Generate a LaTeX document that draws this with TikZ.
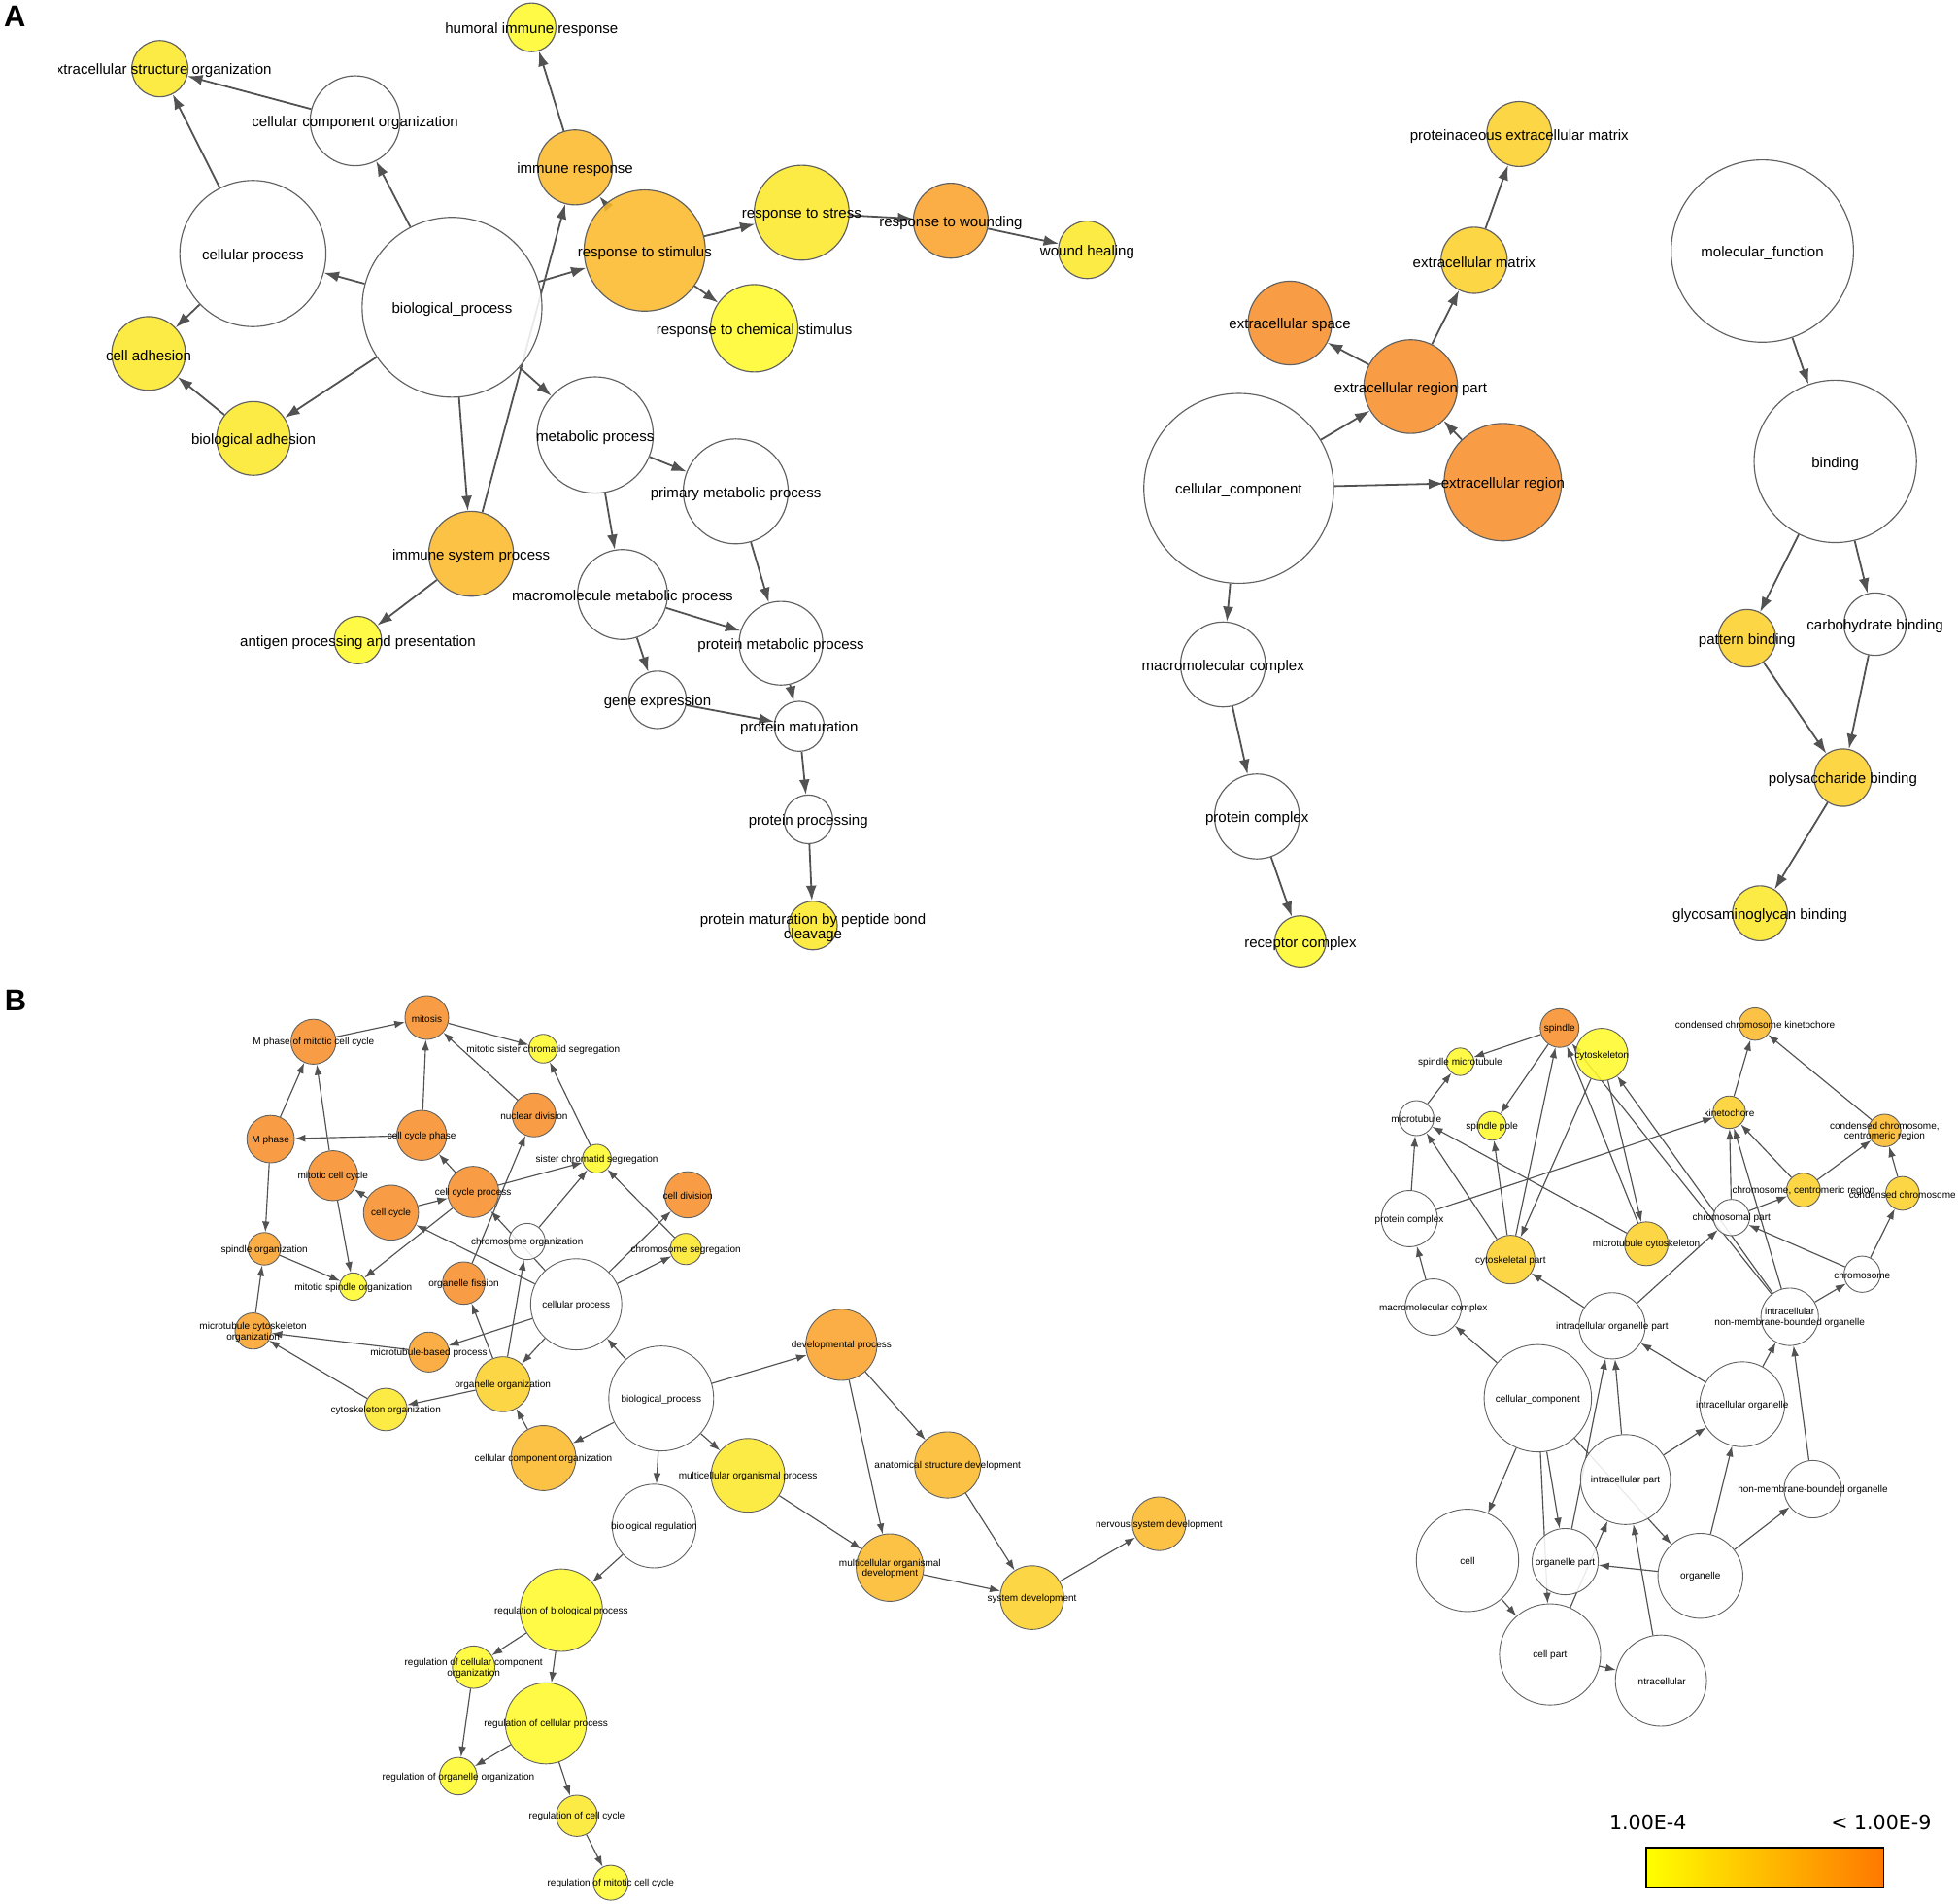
\documentclass[tikz,border=0pt]{standalone}
\usepackage{fontspec}
\usepackage{xcolor}
\usepackage{tikz}
\usetikzlibrary{arrows.meta}
\newfontfamily\lbfont{Liberation Sans}
\newfontfamily\dvfont{DejaVu Sans}
\definecolor{cA}{HTML}{FFF92B}
\definecolor{cB}{HTML}{FDE82B}
\definecolor{cC}{HTML}{FCD02B}
\definecolor{cD}{HTML}{FBB92B}
\definecolor{cE}{HTML}{F9A32B}
\definecolor{cF}{HTML}{F7902B}
\definecolor{barlow}{HTML}{FFFF00}
\definecolor{barmid}{HTML}{FFC500}
\definecolor{barhigh}{HTML}{FF7800}
\pgfdeclarelayer{bg}
\pgfsetlayers{bg,main}

\begin{document}
\begin{tikzpicture}[x=1pt, y=-1pt,
    gonode/.style={circle, draw=black!62, line width=0.9pt, inner sep=0pt, fill=white, fill opacity=0.88},
    gob/.style={gonode, line width=0.7pt},
    txa/.style={font=\lbfont\fontsize{11.7}{12}\selectfont, inner sep=0pt, align=center, text opacity=1, yshift=-1.8pt},
    txb/.style={font=\lbfont\fontsize{7.8}{8.2}\selectfont, inner sep=0pt, align=center, text opacity=1, yshift=-0.8pt},
    edgea/.style={draw=black!68, line width=1.4pt, -{Latex[length=12pt,width=8.5pt]}},
    edgeb/.style={draw=black!68, line width=0.9pt, -{Latex[length=8.5pt,width=6pt]}}]
\useasboundingbox (0,0) rectangle (1568,1524);

% panel letters
\node[font=\lbfont\bfseries\fontsize{24}{24}\selectfont] (letA) at (11.8,13.5) {A};
\node[font=\lbfont\bfseries\fontsize{24}{24}\selectfont] (letB) at (12.5,801) {B};

% A: biological process
\node[gonode, minimum size=144, label={[txa]center:{biological\_process}}] (bpA) at (362,246) {};
\node[gonode, minimum size=117, label={[txa]center:{cellular process}}] (cpA) at (202.5,203) {};
\node[gonode, minimum size=72, label={[txa]center:{cellular component organization}}] (ccoA) at (284.4,96.7) {};
\node[gonode, fill=cB, minimum size=45] (esoA) at (128,55) {};
\begin{scope}
  \clip (47,30) rectangle (260,80);
  \node[txa] (esoAtxt) at (esoA) {extracellular structure organization};
\end{scope}
\node[gonode, fill=cA, minimum size=39, label={[txa]center:{humoral immune response}}] (hirA) at (425.7,21.9) {};
\node[gonode, fill=cD, minimum size=60, label={[txa]center:{immune response}}] (irA) at (460.5,134) {};
\node[gonode, fill=cB, minimum size=59, label={[txa]center:{cell adhesion}}] (caA) at (119,283) {};
\node[gonode, fill=cB, minimum size=59, label={[txa]center:{biological adhesion}}] (baA) at (203,351) {};
\node[gonode, fill=cD, minimum size=68, label={[txa]center:{immune system process}}] (ispA) at (377.3,443.4) {};
\node[gonode, fill=cA, minimum size=38, label={[txa]center:{antigen processing and presentation}}] (apA) at (286.6,512.5) {};
\node[gonode, fill=cD, minimum size=97, label={[txa]center:{response to stimulus}}] (rsA) at (516.3,200.6) {};
\node[gonode, fill=cB, minimum size=76, label={[txa]center:{response to stress}}] (rstrA) at (642,170.3) {};
\node[gonode, fill=cE, minimum size=60, label={[txa]center:{response to wounding}}] (rwA) at (761.4,176.7) {};
\node[gonode, fill=cB, minimum size=46, label={[txa]center:{wound healing}}] (whA) at (870.7,200) {};
\node[gonode, fill=cA, minimum size=70, label={[txa]center:{response to chemical stimulus}}] (rcsA) at (604,262.8) {};
\node[gonode, minimum size=93, label={[txa]center:{metabolic process}}] (mpA) at (476.6,348.3) {};
\node[gonode, minimum size=84, label={[txa]center:{primary metabolic process}}] (pmpA) at (589.2,393.4) {};
\node[gonode, minimum size=72, label={[txa]center:{macromolecule metabolic process}}] (mmpA) at (498.5,476) {};
\node[gonode, minimum size=67, label={[txa]center:{protein metabolic process}}] (prmpA) at (625.4,515) {};
\node[gonode, minimum size=46, label={[txa]center:{gene expression}}] (geA) at (526.6,560.3) {};
\node[gonode, minimum size=40, label={[txa]center:{protein maturation}}] (pmA) at (640,581.5) {};
\node[gonode, minimum size=39, label={[txa]center:{protein processing}}] (ppA) at (647.3,656) {};
\node[gonode, fill=cB, minimum size=39, label={[txa]center:{protein maturation by peptide bond\\cleavage}}] (pmpbA) at (651,741) {};

% A: cellular component
\node[gonode, minimum size=152, label={[txa]center:{cellular\_component}}] (ccA) at (992,391) {};
\node[gonode, fill=cF, minimum size=75, label={[txa]center:{extracellular region part}}] (erpA) at (1129.7,309.5) {};
\node[gonode, fill=cF, minimum size=67, label={[txa]center:{extracellular space}}] (esA) at (1033,258.6) {};
\node[gonode, fill=cC, minimum size=53, label={[txa]center:{extracellular matrix}}] (emA) at (1180.5,208.4) {};
\node[gonode, fill=cC, minimum size=52, label={[txa]center:{proteinaceous extracellular matrix}}] (pemA) at (1216.6,107.3) {};
\node[gonode, fill=cF, minimum size=94, label={[txa]center:{extracellular region}}] (erA) at (1203.5,386) {};
\node[gonode, minimum size=68, label={[txa]center:{macromolecular complex}}] (mcA) at (979.4,532) {};
\node[gonode, minimum size=68, label={[txa]center:{protein complex}}] (pcA) at (1006.6,653.7) {};
\node[gonode, fill=cA, minimum size=41, label={[txa]center:{receptor complex}}] (rcA) at (1041.4,753.7) {};

% A: molecular function
\node[gonode, minimum size=146, label={[txa]center:{molecular\_function}}] (mfA) at (1411.3,201) {};
\node[gonode, minimum size=130, label={[txa]center:{binding}}] (bA) at (1469.7,369.4) {};
\node[gonode, fill=cC, minimum size=46, label={[txa]center:{pattern binding}}] (pbA) at (1399,511) {};
\node[gonode, minimum size=50, label={[txa]center:{carbohydrate binding}}] (cbA) at (1501.6,499.7) {};
\node[gonode, fill=cC, minimum size=46, label={[txa]center:{polysaccharide binding}}] (psbA) at (1475.8,622.6) {};
\node[gonode, fill=cB, minimum size=44, label={[txa]center:{glycosaminoglycan binding}}] (gbA) at (1409.4,731.2) {};

% B: biological process
\node[gob, fill=cF, minimum size=35, label={[txb]center:{mitosis}}] (mitB) at (341.8,814.7) {};
\node[gob, fill=cF, minimum size=36, label={[txb]center:{M phase of mitotic cell cycle}}] (mpmB) at (251,834) {};
\node[gob, fill=cA, minimum size=23, label={[txb]center:{mitotic sister chromatid segregation}}] (mscsB) at (435,839.6) {};
\node[gob, fill=cF, minimum size=35, label={[txb]center:{nuclear division}}] (ndB) at (427.7,892.7) {};
\node[gob, fill=cF, minimum size=38, label={[txb]center:{M phase}}] (mphB) at (216.7,912) {};
\node[gob, fill=cF, minimum size=40, label={[txb]center:{cell cycle phase}}] (ccphB) at (337.7,909) {};
\node[gob, fill=cA, minimum size=23, label={[txb]center:{sister chromatid segregation}}] (scsB) at (478,927.7) {};
\node[gob, fill=cF, minimum size=40, label={[txb]center:{mitotic cell cycle}}] (mccB) at (266.6,941.3) {};
\node[gob, fill=cF, minimum size=41, label={[txb]center:{cell cycle process}}] (ccpB) at (378.9,954.3) {};
\node[gob, fill=cF, minimum size=44, label={[txb]center:{cell cycle}}] (ccB) at (313.1,970.9) {};
\node[gob, fill=cF, minimum size=37, label={[txb]center:{cell division}}] (cdB) at (550.8,956.6) {};
\node[gob, minimum size=29, label={[txb]center:{chromosome organization}}] (choB) at (422.1,994) {};
\node[gob, fill=cB, minimum size=25, label={[txb]center:{chromosome segregation}}] (csB) at (549.2,1000) {};
\node[gob, fill=cE, minimum size=26, label={[txb]center:{spindle organization}}] (spoB) at (211.7,999.8) {};
\node[gob, fill=cA, minimum size=22, label={[txb]center:{mitotic spindle organization}}] (msoB) at (282.9,1030.1) {};
\node[gob, fill=cF, minimum size=34, label={[txb]center:{organelle fission}}] (ofB) at (371.4,1027.3) {};
\node[gob, minimum size=73, label={[txb]center:{cellular process}}] (cpB) at (461.4,1044.3) {};
\node[gob, fill=cE, minimum size=29, label={[txb]center:{microtubule cytoskeleton\\organization}}] (mcoB) at (202.7,1065.7) {};
\node[gob, fill=cE, minimum size=32, label={[txb]center:{microtubule-based process}}] (mbpB) at (343.4,1082.5) {};
\node[gob, fill=cC, minimum size=44, label={[txb]center:{organelle organization}}] (ooB) at (402.7,1108.3) {};
\node[gob, fill=cB, minimum size=34, label={[txb]center:{cytoskeleton organization}}] (coB) at (309,1128.5) {};
\node[gob, fill=cD, minimum size=52, label={[txb]center:{cellular component organization}}] (ccoB) at (435.2,1167.4) {};
\node[gob, minimum size=84, label={[txb]center:{biological\_process}}] (bpB) at (529.5,1119.7) {};
\node[gob, minimum size=67, label={[txb]center:{biological regulation}}] (brB) at (523.8,1221.8) {};
\node[gob, fill=cE, minimum size=57, label={[txb]center:{developmental process}}] (dpB) at (673.8,1076.7) {};
\node[gob, fill=cB, minimum size=59, label={[txb]center:{multicellular organismal process}}] (mopB) at (599,1181.2) {};
\node[gob, fill=cD, minimum size=53, label={[txb]center:{anatomical structure development}}] (asdB) at (758.9,1172.9) {};
\node[gob, fill=cD, minimum size=54, label={[txb]center:{multicellular organismal\\development}}] (modB) at (712.7,1255.1) {};
\node[gob, fill=cC, minimum size=51, label={[txb]center:{system development}}] (sdB) at (826.4,1279.1) {};
\node[gob, fill=cD, minimum size=43, label={[txb]center:{nervous system development}}] (nsdB) at (928.2,1220) {};
\node[gob, fill=cA, minimum size=66, label={[txb]center:{regulation of biological process}}] (rbpB) at (449.5,1289.2) {};
\node[gob, fill=cA, minimum size=34, label={[txb]center:{regulation of cellular component\\organization}}] (rccoB) at (379.3,1334.8) {};
\node[gob, fill=cA, minimum size=65, label={[txb]center:{regulation of cellular process}}] (rcpB) at (437.2,1379.8) {};
\node[gob, fill=cA, minimum size=30, label={[txb]center:{regulation of organelle organization}}] (rooB) at (367,1422.1) {};
\node[gob, fill=cB, minimum size=33, label={[txb]center:{regulation of cell cycle}}] (rccB) at (462,1453.8) {};
\node[gob, fill=cA, minimum size=28, label={[txb]center:{regulation of mitotic cell cycle}}] (rmccB) at (489.1,1507.4) {};

% B: cellular component
\node[gob, fill=cF, minimum size=31, label={[txb]center:{spindle}}] (spB) at (1248.9,823.1) {};
\node[gob, fill=cA, minimum size=42, label={[txb]center:{cytoskeleton}}] (cskB) at (1282.7,844.3) {};
\node[gob, fill=cA, minimum size=22, label={[txb]center:{spindle microtubule}}] (smB) at (1169.3,850.1) {};
\node[gob, fill=cA, minimum size=23, label={[txb]center:{spindle pole}}] (spolB) at (1194.8,901.4) {};
\node[gob, minimum size=28, label={[txb]center:{microtubule}}] (mtB) at (1134.3,895.2) {};
\node[gob, fill=cD, minimum size=26, label={[txb]center:{condensed chromosome kinetochore}}] (cckB) at (1405.5,819.9) {};
\node[gob, fill=cC, minimum size=26, label={[txb]center:{kinetochore}}] (kinB) at (1384.8,890.5) {};
\node[gob, fill=cD, minimum size=26, label={[txb]center:{condensed chromosome,\\centromeric region}}] (cccrB) at (1509.2,905.1) {};
\node[gob, fill=cC, minimum size=27, label={[txb]center:{chromosome, centromeric region}}] (ccrB) at (1444.2,952.8) {};
\node[gob, fill=cC, minimum size=27, label={[txb]center:{condensed chromosome}}] (cchB) at (1523.5,955.5) {};
\node[gob, minimum size=45, label={[txb]center:{protein complex}}] (pcxB) at (1128.6,975.7) {};
\node[gob, minimum size=29, label={[txb]center:{chromosomal part}}] (chpB) at (1386.6,974.8) {};
\node[gob, fill=cC, minimum size=35, label={[txb]center:{microtubule cytoskeleton}}] (mcskB) at (1318.4,995.8) {};
\node[gob, fill=cC, minimum size=39, label={[txb]center:{cytoskeletal part}}] (cspB) at (1209.7,1008.5) {};
\node[gob, minimum size=29, label={[txb]center:{chromosome}}] (chrB) at (1491.2,1020.2) {};
\node[gob, minimum size=45, label={[txb]center:{macromolecular complex}}] (mmcB) at (1147.8,1046.5) {};
\node[gob, minimum size=53, label={[txb]center:{intracellular organelle part}}] (iopB) at (1291,1061.5) {};
\node[gob, minimum size=46, label={[txb]center:{intracellular\\non-membrane-bounded organelle}}] (inmB) at (1433.2,1054.3) {};
\node[gob, minimum size=86, label={[txb]center:{cellular\_component}}] (cccB) at (1231.5,1119.5) {};
\node[gob, minimum size=68, label={[txb]center:{intracellular organelle}}] (ioB) at (1395.2,1124.3) {};
\node[gob, minimum size=72, label={[txb]center:{intracellular part}}] (ipB) at (1301.7,1184.6) {};
\node[gob, minimum size=46, label={[txb]center:{non-membrane-bounded organelle}}] (nmbB) at (1451.7,1192.3) {};
\node[gob, minimum size=82, label={[txb]center:{cell}}] (cellB) at (1175.2,1249.3) {};
\node[gob, minimum size=53, label={[txb]center:{organelle part}}] (opB) at (1253.4,1250.3) {};
\node[gob, minimum size=68, label={[txb]center:{organelle}}] (orgB) at (1361.7,1261.7) {};
\node[gob, minimum size=81, label={[txb]center:{cell part}}] (cptB) at (1241.3,1324.6) {};
\node[gob, minimum size=73, label={[txb]center:{intracellular}}] (icB) at (1330.1,1345.6) {};

% connectors
\begin{pgfonlayer}{bg}
\foreach \a/\b in {bpA/cpA, bpA/ccoA, bpA/baA, bpA/ispA, bpA/rsA, bpA/mpA, ispA/irA,
    cpA/esoA, ccoA/esoA, cpA/caA, baA/caA, irA/hirA, rsA/irA, rsA/rstrA, rsA/rcsA,
    rstrA/rwA, rwA/whA, ispA/apA, mpA/pmpA, mpA/mmpA, pmpA/prmpA, mmpA/prmpA, mmpA/geA,
    prmpA/pmA, geA/pmA, pmA/ppA, ppA/pmpbA,
    ccA/erpA, ccA/erA, ccA/mcA, erA/erpA, erpA/esA, erpA/emA, emA/pemA, mcA/pcA, pcA/rcA,
    mfA/bA, bA/pbA, bA/cbA, pbA/psbA, cbA/psbA, psbA/gbA}
  \draw[edgea] (\a) -- (\b);
\foreach \a/\b in {mpmB/mitB, mitB/mscsB, ccphB/mitB, ndB/mitB, mphB/mpmB, mccB/mpmB,
    ccphB/mphB, scsB/mscsB, ccpB/ccphB, ccB/mccB, ccB/ccpB, ccpB/scsB, ccpB/msoB, mccB/msoB,
    mphB/spoB, spoB/msoB, mcoB/spoB, mbpB/mcoB, coB/mcoB, ooB/coB, cpB/mbpB, cpB/ooB,
    cpB/ccB, cpB/ccpB, choB/scsB, ooB/choB, ooB/ofB, ofB/ndB, cpB/cdB, cpB/csB, csB/scsB,
    bpB/cpB, bpB/ccoB, ccoB/ooB, bpB/brB, bpB/mopB, bpB/dpB, dpB/asdB, dpB/modB, mopB/modB,
    asdB/sdB, modB/sdB, sdB/nsdB, brB/rbpB, rbpB/rccoB, rbpB/rcpB, rccoB/rooB, rcpB/rooB,
    rcpB/rccB, rccB/rmccB}
  \draw[edgeb] (\a) -- (\b);
\foreach \a/\b in {spB/smB, spB/spolB, mtB/smB, cspB/spB, mcskB/spB, cskB/cspB, cskB/mcskB,
    cspB/spolB, cspB/mtB, mcskB/mtB, pcxB/mtB, mmcB/pcxB, pcxB/kinB, inmB/cskB, inmB/spB,
    inmB/kinB, inmB/chrB, kinB/cckB, cccrB/cckB, chpB/kinB, ccrB/kinB, ccrB/cccrB,
    cchB/cccrB, chpB/ccrB, chrB/cchB, chrB/chpB, iopB/chpB, iopB/cspB, cccB/mmcB, cccB/cellB,
    cccB/opB, cccB/cptB, cccB/orgB, opB/iopB, ipB/iopB, ioB/iopB, ipB/ioB, orgB/ioB,
    orgB/nmbB, orgB/opB, cellB/cptB, cptB/icB, cptB/ipB, icB/ipB, ioB/inmB, nmbB/inmB}
  \draw[edgeb] (\a) -- (\b);
\end{pgfonlayer}

% colour key
\node[draw, line width=1.3pt, minimum width=190, minimum height=32, inner sep=0pt,
  left color=barlow, middle color=barmid, right color=barhigh] (cbar) at (1413.4,1495.5) {};
\node[font=\dvfont\fontsize{16}{16}\selectfont] (lowtxt) at (1319.7,1459) {1.00E-4};
\node[font=\dvfont\fontsize{16}{16}\selectfont] (hightxt) at (1506.4,1459) {< 1.00E-9};
\end{tikzpicture}
\end{document}
